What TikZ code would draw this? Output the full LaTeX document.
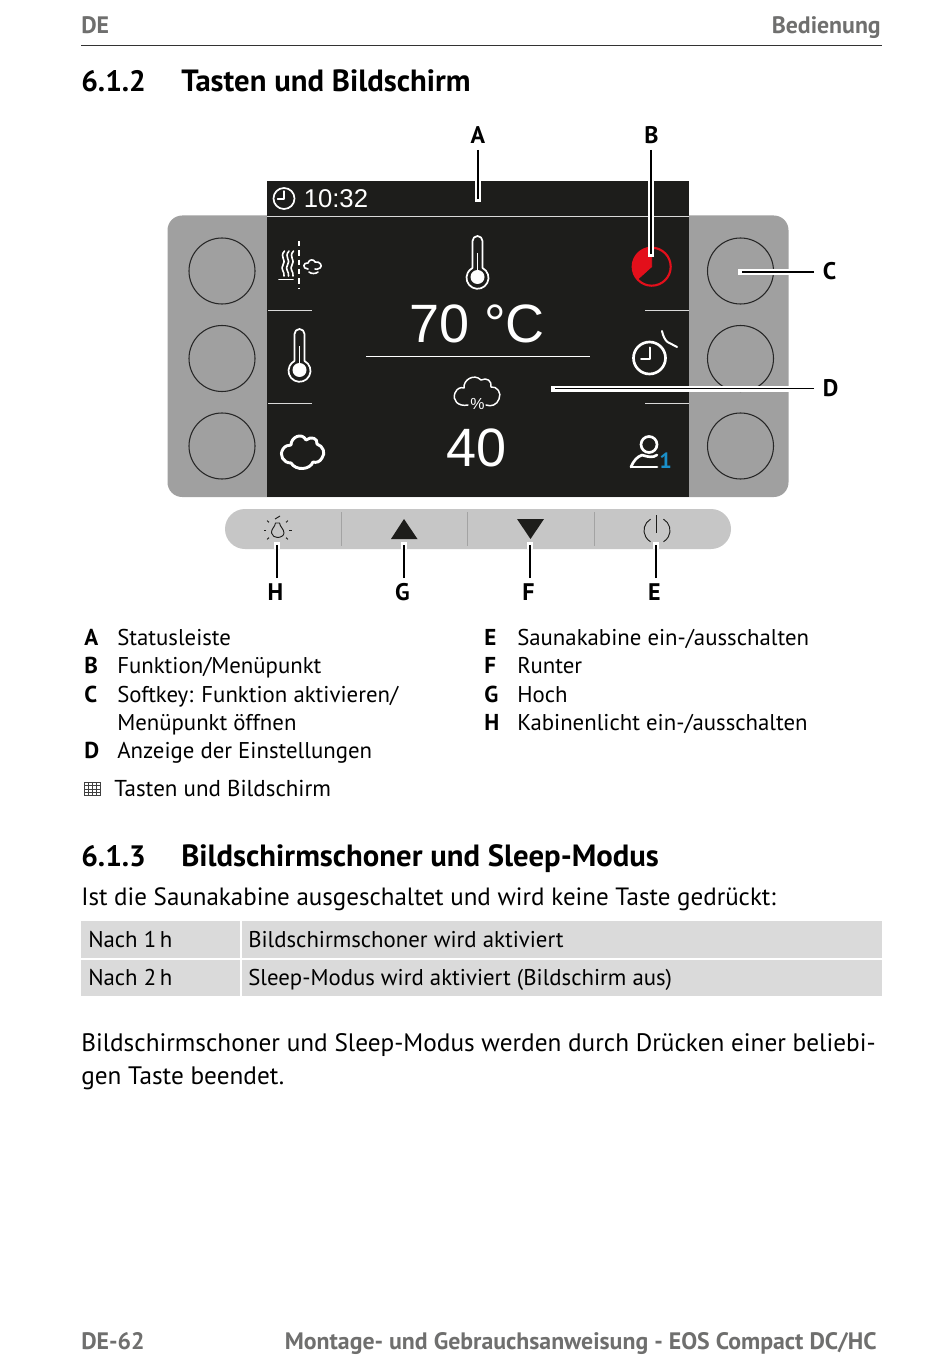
\documentclass[tikz,border=0pt]{standalone}
\usepackage{fontspec}
\setmainfont{PT Sans}
\newfontfamily\arialf{Liberation Sans}
\definecolor{scr}{HTML}{1D1D1B}
\definecolor{pan}{HTML}{A0A0A0}
\definecolor{stripc}{HTML}{C6C6C6}
\definecolor{divc}{HTML}{A3A3A3}
\definecolor{grayt}{HTML}{6F6F6E}
\definecolor{rowc}{HTML}{DADADA}
\definecolor{redc}{HTML}{E30F1B}
\definecolor{bluec}{HTML}{1A8FC9}
\newcommand{\px}[1]{\fontsize{\dimexpr#1pt*3/4\relax}{\dimexpr#1pt*3/4\relax}\selectfont}
\tikzset{
 x=0.75pt,y=-0.75pt,
 body/.style={anchor=base west,inner sep=0,font=\px{22.8},text=black},
 bodyb/.style={anchor=base west,inner sep=0,font=\px{23}\bfseries,text=black},
 para/.style={anchor=base west,inner sep=0,font=\px{25.25},text=black},
 head/.style={anchor=base west,inner sep=0,font=\px{30.7}\bfseries,text=black},
 headn/.style={anchor=base west,inner sep=0,font=\px{29.5}\bfseries,text=black},
 graytext/.style={inner sep=0,font=\px{23.8}\bfseries,text=grayt},
 callout/.style={inner sep=0,font=\px{24}\bfseries,text=black},
 halo/.style={draw=white,line width=4.5pt},
 leader/.style={draw=black,line width=1.25pt},
 softkey/.style={draw=black!85,line width=0.8pt,fill=none},
 wl/.style={draw=white,line width=1.3pt,line cap=round,line join=round},
 wt/.style={draw=white,line width=0.8pt,line cap=round,line join=round},
 disp/.style={inner sep=0,text=white},
 ink/.style={draw=scr,line width=0.7pt,line join=round},
}
\begin{document}
\begin{tikzpicture}
\useasboundingbox[fill=white] (0,0) rectangle (950,1362);
% header
\node[graytext,anchor=base west] (hl) at (81,34) {DE};
\node[graytext,anchor=base east] (hr) at (881,34) {Bedienung};
\coordinate (rl) at (81,45.5); \coordinate (rr) at (882,45.5);
\draw[black!80,line width=0.8pt] (rl) -- (rr);
\node[headn] (h1n) at (81,91.5) {6.1.2};
\node[head] (h1t) at (181,91.5) {Tasten und Bildschirm};
% panel
\fill[pan,rounded corners=11pt] (167.5,215.5) rectangle (788.5,497);
\fill[scr] (266.5,181) rectangle (689,497);
\draw[white!85!black,line width=0.75pt] (266.5,217) -- (689,217);
\foreach \cx in {222,740.5}{
 \foreach \cy in {271,358.5,446}{
  \draw[softkey] (\cx,\cy) circle (33);
 }
}
% separators
\foreach \yy in {310.5,403.5}{
 \draw[white!85!black,line width=0.6pt] (268,\yy) -- (312,\yy);
 \draw[white!85!black,line width=0.6pt] (645,\yy) -- (689,\yy);
}
% status clock
\draw[wl] (284,198.5) circle (10.5);
\draw[wl,line width=1pt] (284,191) -- (284,199) -- (277.5,199);
\node[disp,font=\arialf\px{25.7},anchor=base west] (time) at (303.5,207.5) {10:32};
% steam icon
\foreach \dx in {0,4.5,9}{
 \draw[wl,line width=1.2pt] (284.5+\dx,251) .. controls (279+\dx,257) and (287+\dx,260) .. (283+\dx,265) .. controls (280+\dx,269) and (285+\dx,272) .. (284+\dx,276);
}
\draw[wl,line width=1.2pt] (279,279.5) -- (293,279.5);
\draw[white,line width=1.4pt,dash pattern=on 4pt off 3pt] (299,241) -- (299,289);
\draw[wl,line width=1.2pt] (308,269) .. controls (302,269) and (303,262) .. (308,263) .. controls (309,259) and (314,259) .. (315,262) .. controls (320,261) and (323,266) .. (320,268) .. controls (318,270) and (316,269) .. (315,269);
\draw[wl,line width=1.2pt] (309,272) .. controls (311,274) and (316,274) .. (318,272);
% thermometers
\foreach \tx/\ty in {477.5/237,299.5/330}{
 \begin{scope}[shift={(\tx,\ty)}]
  \draw[wl,line width=1.3pt] (-5,31) -- (-5,4) arc[start angle=180,end angle=360,radius=5] -- (5,31)
   arc[start angle=-63,end angle=243,radius=11];
  \fill[white] (0,40) circle (7);
  \draw[white,line width=1pt] (0,16) -- (0,34);
 \end{scope}
}
% main values
\node[disp,font=\arialf\px{54}] (temp) at (477,324) {70 °C};
\draw[white,line width=1pt] (366,356.5) -- (590,356.5);
\node[disp,font=\arialf\px{54}] (hum) at (477,447.5) {40};
% % cloud
\draw[wt,line width=1.1pt] (468,405) .. controls (458,407) and (452,400) .. (455,393) .. controls (457,388) and (461,387) .. (464,388) .. controls (463,380) and (474,373) .. (481,380) .. controls (487,377) and (492,381) .. (491,387) .. controls (497,386) and (502,393) .. (499,399) .. controls (497,405) and (491,407) .. (486,405);
\node[disp,font=\arialf\px{16}] (pct) at (477.5,404) {\%};
% big cloud
\draw[wl,line width=2.2pt] (291,463) .. controls (283,463) and (279,455) .. (283,449) .. controls (285,446) and (288,445) .. (291,445) .. controls (291,437) and (302,432) .. (306,440) .. controls (311,436) and (318,438) .. (317,444) .. controls (323,446) and (326,453) .. (322,458) .. controls (320,462) and (316,463) .. (313,462) .. controls (310,470) and (296,471) .. (291,463) -- cycle;
% red timer
\filldraw[fill=redc,draw=redc,line width=0.5pt] (651.7,266.7) -- (651.7,247.7) arc[start angle=-90,end angle=-222,radius=19] -- cycle;
\draw[redc,line width=1.6pt] (651.7,266.7) circle (19);
% clock with tick
\draw[wl,line width=2pt] (649.5,358) circle (16);
\draw[wl,line width=1.5pt] (649.5,347.5) -- (649.5,359) -- (641,359);
\draw[wl,line width=1.5pt] (662,331) .. controls (663,336) and (665,340) .. (667.5,342) -- (677,347);
% person
\draw[wl,line width=2pt] (649,444.5) circle (8);
\draw[wl,line width=2pt] (631,467) -- (657,467);
\draw[wl,line width=2pt] (631,467) .. controls (634,460) and (637,457) .. (642,455);
\draw[wl,line width=2pt] (657,455) .. controls (653,458) and (648,457) .. (642,455);
\node[inner sep=0,font=\px{22}\bfseries,text=bluec] (usr) at (665.5,461) {1};
% strip
\fill[stripc,rounded corners=15pt] (225,509) rectangle (731,549);
\foreach \dx in {341.5,467.5,594}{\draw[divc,line width=0.75pt] (\dx,512) -- (\dx,546);}
% bulb
\draw[ink] (275.5,523) .. controls (275,527) and (271,529) .. (271.5,533) .. controls (272,536) and (275,537.5) .. (277.5,537.5) .. controls (280,537.5) and (284,536) .. (284,533) .. controls (284,529) and (280,527) .. (279.5,523) -- cycle;
\draw[ink] (275,519) -- (280,516);
\begin{scope}[shift={(277.5,530)}]
\foreach \ang in {0,42,138,180,222,318}{\draw[ink] (\ang:11.5) -- (\ang:14);}
\end{scope}
% triangles
\fill[scr] (404,519) -- (417.5,539) -- (391,539) -- cycle;
\fill[scr] (517,519) -- (544,519) -- (530.5,539) -- cycle;
% power
\draw[ink] (656.7,515) -- (656.7,533);
\draw[ink] (650.5,519.2) arc[start angle=-120,end angle=-240,radius=13];
\draw[ink] (663.5,519.2) arc[start angle=-60,end angle=60,radius=13];
% callouts
\node[callout] (A) at (478,135) {A};
\node[callout] (B) at (651.5,135) {B};
\node[callout] (C) at (829.5,271) {C};
\node[callout] (D) at (830.5,388) {D};
\node[callout] (E) at (654.5,592) {E};
\node[callout] (F) at (528.5,592) {F};
\node[callout] (G) at (402.5,592) {G};
\node[callout] (H) at (275.5,592) {H};
\coordinate (a1) at (478,150); \coordinate (a2) at (478,199); \coordinate (a3) at (478,202); \coordinate (a4) at (478,181);
\coordinate (b1) at (651,150); \coordinate (b2) at (651,254); \coordinate (b3) at (651,257); \coordinate (b4) at (651,181);
\coordinate (c1) at (814,272); \coordinate (c2) at (742,272); \coordinate (c3) at (738,272); \coordinate (c4) at (789,272);
\coordinate (d1) at (814,388.5); \coordinate (d2) at (555,388.5); \coordinate (d3) at (551,388.5); \coordinate (d4) at (789,388.5);
\coordinate (e1) at (656,578); \coordinate (e2) at (656,545); \coordinate (e3) at (656,542); \coordinate (e4) at (656,549);
\coordinate (f1) at (530,578); \coordinate (f2) at (530,545); \coordinate (f3) at (530,542); \coordinate (f4) at (530,549);
\coordinate (g1) at (404,578); \coordinate (g2) at (404,545); \coordinate (g3) at (404,542); \coordinate (g4) at (404,549);
\coordinate (h1) at (277,578); \coordinate (h2) at (277,545); \coordinate (h3) at (277,542); \coordinate (h4) at (277,549);
\foreach \n in {a,b,c,d,e,f,g,h}{
 \draw[halo] (\n3) -- (\n4);
 \draw[leader] (\n1) -- (\n2);
}
% legend
\node[bodyb] (la) at (84,645) {A}; \node[body] (ta) at (117,645) {Statusleiste};
\node[bodyb] (lb) at (84,673) {B}; \node[body] (tb) at (117,673) {Funktion/Menüpunkt};
\node[bodyb] (lc) at (84,702) {C}; \node[body] (tc) at (117,702) {Softkey: Funktion aktivieren/};
\node[body] (tc2) at (117,730) {Menüpunkt öffnen};
\node[bodyb] (ld) at (84,758) {D}; \node[body] (td) at (117,758) {Anzeige der Einstellungen};
\node[bodyb] (le) at (484,645) {E}; \node[body] (te) at (517,645) {Saunakabine ein-/ausschalten};
\node[bodyb] (lf) at (484,673) {F}; \node[body] (tf) at (517,673) {Runter};
\node[bodyb] (lg) at (484,702) {G}; \node[body] (tg) at (517,702) {Hoch};
\node[bodyb] (lh) at (484,730) {H}; \node[body] (th) at (517,730) {Kabinenlicht ein-/ausschalten};
% table icon
\draw[black!75,line width=0.5pt] (84.5,782) rectangle (100.5,795);
\foreach \ix in {88.5,92.5,96.5}{\draw[black!75,line width=0.5pt] (\ix,782) -- (\ix,795);}
\foreach \iy in {785.5,789,792}{\draw[black!75,line width=0.5pt] (84.5,\iy) -- (100.5,\iy);}
\node[body,font=\px{23}] (cap) at (114,796) {Tasten und Bildschirm};
% section 6.1.3
\node[headn] (h2n) at (81,866.5) {6.1.3};
\node[head] (h2t) at (181,866.5) {Bildschirmschoner und Sleep-Modus};
\node[para,font=\px{25}] (p1) at (81,905) {Ist die Saunakabine ausgeschaltet und wird keine Taste gedrückt:};
\fill[rowc] (81,921) rectangle (240,958);
\fill[rowc] (242,921) rectangle (882,958);
\fill[rowc] (81,960) rectangle (240,996);
\fill[rowc] (242,960) rectangle (882,996);
\node[body] (r1a) at (88,947) {Nach 1\,h};
\node[body] (r1b) at (248,947) {Bildschirmschoner wird aktiviert};
\node[body] (r2a) at (88,985) {Nach 2\,h};
\node[body] (r2b) at (248,985) {Sleep-Modus wird aktiviert (Bildschirm aus)};
\node[para] (p2) at (81,1051) {Bildschirmschoner und Sleep-Modus werden durch Drücken einer beliebi-};
\node[para] (p3) at (81,1084) {gen Taste beendet.};
% footer
\node[graytext,anchor=base west] (fl) at (81,1349) {DE-62};
\node[graytext,anchor=base east] (fr) at (877,1349) {Montage- und Gebrauchsanweisung - EOS Compact DC/HC};
\end{tikzpicture}
\end{document}
